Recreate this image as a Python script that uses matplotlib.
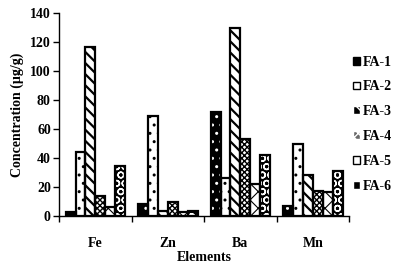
import matplotlib
matplotlib.use("Agg")
import matplotlib.pyplot as plt
import numpy as np
from matplotlib.patches import Patch

elements = ["Fe", "Zn", "Ba", "Mn"]
series = ["FA-1", "FA-2", "FA-3", "FA-4", "FA-5", "FA-6"]
fa1 = [2.5, 8.3, 72.0, 6.9]
fa2 = [44.3, 69.0, 26.4, 49.4]
fa3 = [116.5, 3.7, 129.5, 28.0]
fa4 = [14.0, 10.0, 52.9, 17.0]
fa5 = [6.4, 2.5, 22.0, 16.3]
fa6 = [34.5, 3.2, 41.8, 30.8]
values = [fa1, fa2, fa3, fa4, fa5, fa6]
yticks = [0, 20, 40, 60, 80, 100, 120, 140]

# style per series: (facecolor, hatchcolor, hatch, hatch linewidth)
styles = [
    ("black", "white", "..", 1.0),
    ("white", "black", "..", 1.0),
    ("white", "black", "\\\\\\", 1.6),
    ("white", "black", "xxxxxx", 1.0),
    ("white", "black", "xx", 0.8),
    ("black", "white", "OO", 1.0),
]
legend_styles = [
    ("black", "black", ""),
    ("white", "black", ""),
    ("black", "white", "\\\\"),
    ("dimgray", "white", "xxxx"),
    ("white", "black", ""),
    ("black", "white", "//"),
]

plt.rcParams["font.family"] = ["Liberation Serif", "DejaVu Serif"]
plt.rcParams["font.weight"] = "bold"

fig = plt.figure(figsize=(4.05, 2.67), dpi=100)
ax = fig.add_axes([0.146, 0.191, 0.716, 0.760])

x = np.arange(len(elements))
n = len(series)
bw = 0.137
offsets = (np.arange(n) - (n - 1) / 2) * bw
for i, (vals, (fc, hc, h, hlw)) in enumerate(zip(values, styles)):
    with plt.rc_context({"hatch.linewidth": hlw}):
        ax.bar(x + offsets[i], vals, bw, facecolor=fc, edgecolor=hc, hatch=h, linewidth=0, zorder=2)
    ax.bar(x + offsets[i], vals, bw, fill=False, edgecolor="black", linewidth=1.6, zorder=3)

handles = []
with plt.rc_context({"hatch.linewidth": 1.0}):
    for fc, ec, h in legend_styles:
        handles.append(Patch(facecolor=fc, edgecolor=ec, hatch=h, linewidth=0))

ax.set_xlim(-0.5, len(elements) - 0.5)
ax.set_ylim(0, 140)
ax.set_yticks(yticks)
ax.set_yticklabels([str(v) for v in yticks], fontsize=10, fontweight="bold")
ax.set_xticks(x)
ax.set_xticklabels(elements, fontsize=10, fontweight="bold")
ax.tick_params(axis="x", length=0, pad=15)
ax.set_xticks(np.arange(-0.5, len(elements)), minor=True)
ax.tick_params(axis="x", which="minor", length=4, width=1, direction="out")
ax.tick_params(axis="y", length=4, width=1, direction="out", pad=2)
for s in ["top", "right"]:
    ax.spines[s].set_visible(False)
for s in ["left", "bottom"]:
    ax.spines[s].set_linewidth(1.0)

ax.set_ylabel("Concentration (µg/g)", fontsize=10, fontweight="bold", labelpad=4)
ax.set_xlabel("Elements", fontsize=10, fontweight="bold", labelpad=1)

leg = fig.legend(handles, series, loc="center left", bbox_to_anchor=(0.84, 0.535),
                 frameon=False, handlelength=0.5, handleheight=0.5, handletextpad=0.2,
                 labelspacing=0.85, prop={"size": 10, "weight": "bold"})
for p in leg.get_patches():
    p.set_linewidth(1.0)

fig.savefig("out.png", dpi=100)
